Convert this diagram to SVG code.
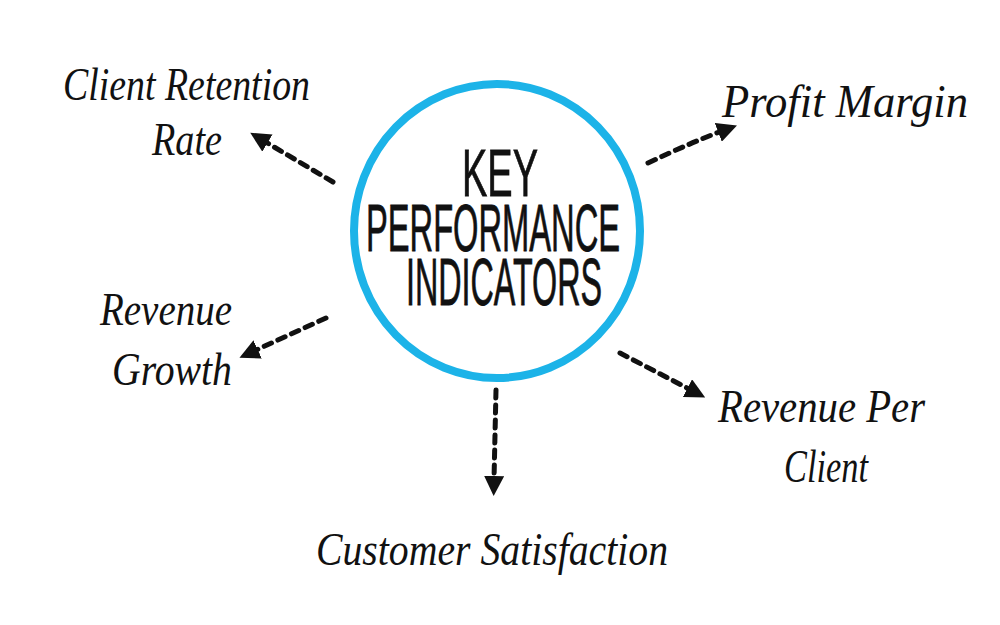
<svg xmlns="http://www.w3.org/2000/svg" width="1000" height="625" viewBox="0 0 1000 625">
<defs>
<style>
.lbl{font-family:"Liberation Serif","DejaVu Serif",serif;font-style:italic;font-size:46px;fill:#111;}
.kpi{font-family:"Liberation Sans","DejaVu Sans",sans-serif;font-size:66px;fill:#111;stroke:#111;stroke-width:0.8;}
.con{fill:none;stroke:#111;stroke-width:5;stroke-linecap:round;stroke-dasharray:8 7;}
</style>
<marker id="ah" viewBox="0 0 10 10" refX="2" refY="5" markerWidth="20" markerHeight="20" markerUnits="userSpaceOnUse" orient="auto">
<path d="M0,0 L10,5 L0,10 Z" fill="#111"/>
</marker>
</defs>
<rect width="1000" height="625" fill="#fff"/>
<g id="center">
<ellipse cx="497" cy="231" rx="143" ry="147" fill="none" stroke="#1cb3e8" stroke-width="8"/>
<text class="kpi" x="462" y="196" textLength="76" lengthAdjust="spacingAndGlyphs">KEY</text>
<text class="kpi" x="366" y="251" textLength="254" lengthAdjust="spacingAndGlyphs">PERFORMANCE</text>
<text class="kpi" x="406" y="305" textLength="196" lengthAdjust="spacingAndGlyphs">INDICATORS</text>
</g>
<g id="client-retention">
<text class="lbl" x="63" y="100" textLength="247" lengthAdjust="spacingAndGlyphs">Client Retention</text>
<text class="lbl" x="152" y="155" textLength="70" lengthAdjust="spacingAndGlyphs">Rate</text>
</g>
<g id="profit-margin">
<text class="lbl" x="722" y="117" textLength="246" lengthAdjust="spacingAndGlyphs">Profit Margin</text>
</g>
<g id="revenue-growth">
<text class="lbl" x="100" y="325" textLength="132" lengthAdjust="spacingAndGlyphs">Revenue</text>
<text class="lbl" x="112" y="385" textLength="120" lengthAdjust="spacingAndGlyphs">Growth</text>
</g>
<g id="revenue-per-client">
<text class="lbl" x="718" y="422" textLength="207" lengthAdjust="spacingAndGlyphs">Revenue Per</text>
<text class="lbl" x="784" y="482" textLength="84" lengthAdjust="spacingAndGlyphs">Client</text>
</g>
<g id="customer-satisfaction">
<text class="lbl" x="316" y="565" textLength="352" lengthAdjust="spacingAndGlyphs">Customer Satisfaction</text>
</g>
<g id="connectors">
<path class="con" d="M333,182 L264,141" marker-end="url(#ah)"/>
<path class="con" d="M648,163 Q690,143 722,131" marker-end="url(#ah)"/>
<path class="con" d="M326,318 L254,351" marker-end="url(#ah)"/>
<path class="con" d="M620,353 L691,390" marker-end="url(#ah)"/>
<path class="con" d="M496,390 L494,480" marker-end="url(#ah)"/>
</g>
</svg>
